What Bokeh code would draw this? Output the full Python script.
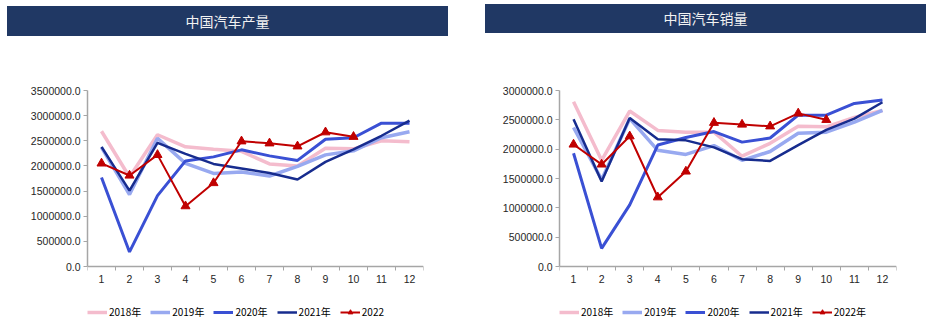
from bokeh.plotting import figure
from bokeh.models import (FixedTicker, PrintfTickFormatter, Legend, LegendItem,
                          Div, Range1d)
from bokeh.layouts import row, column
from bokeh.embed import file_html
from bokeh.resources import INLINE

months = list(range(1, 13))
month_labels = [str(m) for m in months]

# 中国汽车产量 (vehicles)
prod_2018 = [2690000, 1780000, 2620000, 2380000, 2330000, 2290000, 2040000, 2000000, 2350000, 2340000, 2500000, 2480000]
prod_2019 = [2370000, 1430000, 2550000, 2050000, 1850000, 1880000, 1800000, 1990000, 2220000, 2300000, 2560000, 2680000]
prod_2020 = [1770000, 290000, 1410000, 2100000, 2180000, 2320000, 2200000, 2110000, 2530000, 2560000, 2850000, 2850000]
prod_2021 = [2380000, 1510000, 2460000, 2240000, 2040000, 1950000, 1860000, 1730000, 2080000, 2330000, 2600000, 2900000]
prod_2022 = [2050000, 1810000, 2220000, 1200000, 1660000, 2490000, 2450000, 2390000, 2670000, 2580000]

# 中国汽车销量 (vehicles)
sales_2018 = [2810000, 1810000, 2650000, 2320000, 2290000, 2290000, 1880000, 2100000, 2390000, 2380000, 2540000, 2660000]
sales_2019 = [2370000, 1480000, 2520000, 1980000, 1910000, 2060000, 1810000, 1960000, 2270000, 2290000, 2460000, 2660000]
sales_2020 = [1930000, 310000, 1050000, 2070000, 2200000, 2300000, 2120000, 2190000, 2580000, 2580000, 2780000, 2840000]
sales_2021 = [2510000, 1450000, 2530000, 2170000, 2150000, 2030000, 1830000, 1800000, 2070000, 2330000, 2520000, 2800000]
sales_2022 = [2080000, 1740000, 2220000, 1180000, 1620000, 2450000, 2420000, 2390000, 2610000, 2500000]

series_names_left = ["2018年", "2019年", "2020年", "2021年", "2022"]
series_names_right = ["2018年", "2019年", "2020年", "2021年", "2022年"]

colors = ["#F4BCCD", "#98A9F0", "#3A50D4", "#172C8E", "#C00000"]
widths = [3.5, 3.5, 3, 2.5, 2]

FONT = "Liberation Sans"
CJK = "Noto Sans CJK SC"

PLOT_H = 176      # height of the data area in px
LEGEND_H = 56     # extra area below the x axis that holds the legend


def make_chart(title, data, names, ymax, frame_left, frame_w, right_border,
               top_border, div_margin, div_h):
    ymin = -LEGEND_H / PLOT_H * ymax
    p = figure(frame_width=frame_w, frame_height=PLOT_H + LEGEND_H,
               min_border_left=frame_left, min_border_right=right_border,
               min_border_top=top_border, min_border_bottom=0,
               x_range=Range1d(0.5, 12.5), y_range=Range1d(ymin, ymax),
               output_backend="svg", toolbar_location=None)
    p.outline_line_color = None
    p.xgrid.grid_line_color = None
    p.ygrid.grid_line_color = None
    p.background_fill_color = "white"
    p.border_fill_color = "white"

    # x axis drawn at y = 0; labels at months, ticks at band boundaries
    p.xaxis.fixed_location = 0
    p.xaxis.ticker = FixedTicker(ticks=months,
                                 minor_ticks=[m + 0.5 for m in range(0, 13)])
    p.xaxis.major_label_overrides = {m: l for m, l in zip(months, month_labels)}
    p.xaxis.major_tick_line_color = None
    p.xaxis.major_tick_out = 4
    p.xaxis.major_tick_in = 0
    p.xaxis.minor_tick_out = 4
    p.xaxis.minor_tick_in = 0
    p.xaxis.minor_tick_line_color = "#A6A6A6"
    p.xaxis.major_label_standoff = 4

    p.yaxis.ticker = FixedTicker(ticks=list(range(0, ymax + 1, 500000)),
                                 minor_ticks=[])
    p.yaxis.bounds = (0, ymax)
    p.yaxis.formatter = PrintfTickFormatter(format="%.1f")
    p.yaxis.major_tick_out = 4
    p.yaxis.major_tick_in = 0
    p.yaxis.major_tick_line_color = "#A6A6A6"
    p.yaxis.major_label_standoff = 3

    for ax in (p.xaxis[0], p.yaxis[0]):
        ax.axis_line_color = "#A6A6A6"
        ax.axis_line_width = 1.5
        ax.major_label_text_font = FONT
        ax.major_label_text_font_size = "10.5px"
        ax.major_label_text_color = "#262626"

    items = []
    for i, (vals, name) in enumerate(zip(data, names)):
        xs = months[:len(vals)]
        r = p.line(xs, vals, line_color=colors[i], line_width=widths[i])
        rs = [r]
        if i == 4:
            m = p.scatter(xs, vals, marker="triangle", size=9,
                          fill_color=colors[i], line_color=colors[i])
            rs.append(m)
        items.append(LegendItem(label=name, renderers=rs))

    legend = Legend(items=items, orientation="horizontal",
                    location=(0, 3), padding=0, margin=0,
                    spacing=9, glyph_width=20, glyph_height=12,
                    label_standoff=2, label_height=12,
                    label_text_font=CJK, label_text_font_size="10px",
                    label_text_color="#000000",
                    border_line_color=None, background_fill_alpha=0)
    p.add_layout(legend, "center")

    html = (f'<div style="width:100%;text-align:center;color:#F2F2F2;'
            f'font-family:\'Noto Sans CJK SC\';font-size:14px;'
            f'line-height:{div_h}px;">{title}</div>')
    div = Div(text=html, width=441, height=div_h, margin=div_margin,
              styles={"background-color": "#203864", "color": "#F2F2F2",
                      "text-align": "center", "line-height": f"{div_h}px"})
    return column(div, p, spacing=0)


left = make_chart("中国汽车产量",
                  [prod_2018, prod_2019, prod_2020, prod_2021, prod_2022],
                  series_names_left, 3500000, 87, 336, 57, 54,
                  (6, 0, 0, 7), 30)
right = make_chart("中国汽车销量",
                   [sales_2018, sales_2019, sales_2020, sales_2021, sales_2022],
                   series_names_right, 3000000, 79, 337, 38, 57,
                   (4, 0, 0, 5), 29)

layout = row(left, right, spacing=0)
open("out.html", "w").write(file_html(layout, INLINE))
